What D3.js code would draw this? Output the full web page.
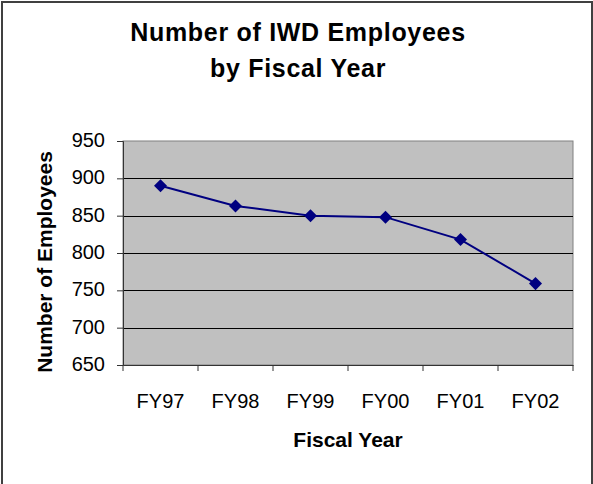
<!DOCTYPE html>
<html>
<head>
<meta charset="utf-8">
<script src="https://cdn.jsdelivr.net/npm/d3@7"></script>
<style>
  body { margin: 0; background: #fff; }
  svg { display: block; }
  text { font-family: Arial, "Liberation Sans", sans-serif; fill: #000; }
</style>
</head>
<body>
<div id="chart"></div>
<script>
var w = 593,
    h = 484;

var years = ["FY97", "FY98", "FY99", "FY00", "FY01", "FY02"];
var employees = [890, 863, 850, 848, 818, 759];
var yTicks = [650, 700, 750, 800, 850, 900, 950];
var titleLines = ["Number of IWD Employees", "by Fiscal Year"];

var plot = { left: 123, top: 141, right: 573, bottom: 365 };

var svg = d3.select("#chart")
    .append("svg")
    .attr("width", w)
    .attr("height", h);

svg.append("rect")
    .attr("width", w)
    .attr("height", h)
    .attr("fill", "#fff");

// outer chart border (bottom edge runs off the picture)
svg.append("rect")
    .attr("x", 2)
    .attr("y", 2)
    .attr("width", 590)
    .attr("height", 520)
    .attr("fill", "none")
    .attr("stroke", "#404040")
    .attr("stroke-width", 2);

var x = d3.scaleBand()
    .domain(years)
    .range([plot.left, plot.right]);

var y = d3.scaleLinear()
    .domain([650, 950])
    .range([plot.bottom, plot.top]);

// plot area
svg.append("rect")
    .attr("x", plot.left)
    .attr("y", plot.top)
    .attr("width", plot.right - plot.left)
    .attr("height", plot.bottom - plot.top)
    .attr("fill", "#c0c0c0")
    .attr("stroke", "#808080")
    .attr("stroke-width", 1);

// gridlines
svg.append("g")
    .selectAll("line")
    .data(yTicks.slice(1, -1))
    .enter()
    .append("line")
    .attr("x1", plot.left)
    .attr("x2", plot.right)
    .attr("y1", function (d) { return Math.round(y(d)) + 0.5; })
    .attr("y2", function (d) { return Math.round(y(d)) + 0.5; })
    .attr("stroke", "#000")
    .attr("stroke-width", 1);

// y axis
var yAxis = svg.append("g")
    .attr("transform", "translate(" + plot.left + ",0)")
    .call(d3.axisLeft(y).tickValues(yTicks).tickSize(6).tickPadding(12));

// x axis with ticks on band edges
var xAxis = svg.append("g")
    .attr("transform", "translate(0," + plot.bottom + ")")
    .call(d3.axisBottom(x).tickSize(0).tickPadding(29));

var edges = years.map(function (d) { return x(d); }).concat([plot.right]);
xAxis.selectAll(".edge")
    .data(edges)
    .enter()
    .append("line")
    .attr("class", "edge")
    .attr("x1", function (d) { return d; })
    .attr("x2", function (d) { return d; })
    .attr("y1", 0)
    .attr("y2", 6)
    .attr("stroke", "#333");

[yAxis, xAxis].forEach(function (g) {
    g.select(".domain").attr("stroke", "#333");
    g.selectAll(".tick line").attr("stroke", "#333");
    g.selectAll("text")
        .attr("font-family", "Arial, 'Liberation Sans', sans-serif")
        .attr("font-size", "20px")
        .attr("fill", "#000");
});
yAxis.selectAll("text").attr("dy", "0.27em");

// series line
var line = d3.line()
    .x(function (d, i) { return x(years[i]) + x.bandwidth() / 2; })
    .y(function (d) { return y(d); });

svg.append("path")
    .datum(employees)
    .attr("d", line)
    .attr("fill", "none")
    .attr("stroke", "#000080")
    .attr("stroke-width", 2);

svg.selectAll(".marker")
    .data(employees)
    .enter()
    .append("path")
    .attr("class", "marker")
    .attr("d", d3.symbol().type(d3.symbolSquare).size(85))
    .attr("transform", function (d, i) {
        return "translate(" + (x(years[i]) + x.bandwidth() / 2) + "," + y(d) + ") rotate(45)";
    })
    .attr("fill", "#000080");

// titles
svg.selectAll(".title")
    .data(titleLines)
    .enter()
    .append("text")
    .attr("class", "title")
    .attr("x", 298)
    .attr("y", function (d, i) { return 41 + i * 36; })
    .attr("text-anchor", "middle")
    .attr("font-size", "25px")
    .attr("font-weight", "bold")
    .attr("letter-spacing", "0.7px")
    .text(function (d) { return d; });

svg.append("text")
    .attr("x", (plot.left + plot.right) / 2)
    .attr("y", 447)
    .attr("text-anchor", "middle")
    .attr("font-size", "21px")
    .attr("font-weight", "bold")
    .text("Fiscal Year");

svg.append("text")
    .attr("transform", "translate(52,262) rotate(-90)")
    .attr("text-anchor", "middle")
    .attr("font-size", "21px")
    .attr("font-weight", "bold")
    .text("Number of Employees");
</script>
</body>
</html>
